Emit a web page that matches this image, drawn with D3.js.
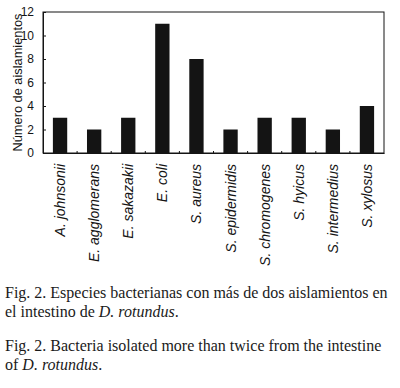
<!DOCTYPE html>
<html><head><meta charset="utf-8">
<script src="https://cdn.jsdelivr.net/npm/d3@7"></script>
<style>
body{margin:0;background:#fff;}
svg{display:block;}
</style></head>
<body>
<script>
const categories = ["A. johnsonii","E. agglomerans","E. sakazakii","E. coli","S. aureus","S. epidermidis","S. chromogenes","S. hyicus","S. intermedius","S. xylosus"];
const values = [3,2,3,11,8,2,3,3,2,4];
const yTicks = [0,2,4,6,8,10,12];
const yTitle = "Número de aislamientos";
const captionEs = [["Fig. 2. Especies bacterianas con más de dos aislamientos en"],["el intestino de ", "D. rotundus", "."]];
const captionEn = [["Fig. 2. Bacteria isolated more than twice from the intestine"],["of ", "D. rotundus", "."]];

const W = 400, H = 388;
const m = {left:43, right:384, top:12, bottom:153};
const svg = d3.select("body").append("svg").attr("width",W).attr("height",H);
const ink = "#141414";

const x = d3.scaleBand().domain(categories).range([m.left, m.right]).paddingInner(0.58).paddingOuter(0.29);
const y = d3.scaleLinear().domain([0,12]).range([m.bottom, m.top]);

// frame
svg.append("rect").attr("x",m.left).attr("y",m.top).attr("width",m.right-m.left).attr("height",m.bottom-m.top)
  .attr("fill","none").attr("stroke",ink).attr("stroke-width",1);

// bars
svg.selectAll("rect.bar").data(values).join("rect").attr("class","bar")
  .attr("x",(d,i)=>x(categories[i])).attr("width",x.bandwidth())
  .attr("y",d=>y(d)).attr("height",d=>y(0)-y(d)).attr("fill",ink);

// y axis
const ya = svg.append("g").attr("transform",`translate(${m.left},0)`)
  .call(d3.axisLeft(y).tickValues(yTicks).tickSize(-3).tickPadding(9));
ya.select(".domain").attr("stroke",ink);
ya.selectAll(".tick line").attr("stroke",ink);
ya.selectAll("text").attr("font-family","Liberation Sans, Arial, sans-serif").attr("font-size",12).attr("fill",ink);

// x axis ticks between categories
const step = x.step();
const xa = svg.append("g").attr("transform",`translate(0,${m.bottom})`)
  .call(d3.axisBottom(x).tickSize(0).tickFormat(""));
xa.select(".domain").attr("stroke",ink);
svg.selectAll("line.xt").data(categories.slice(1)).join("line").attr("class","xt")
  .attr("x1",d=>x(d)-(step - x.bandwidth())/2).attr("x2",d=>x(d)-(step - x.bandwidth())/2)
  .attr("y1",m.bottom).attr("y2",m.bottom-2).attr("stroke",ink);

// x labels rotated
svg.selectAll("text.xl").data(categories).join("text").attr("class","xl")
  .attr("transform",d=>`translate(${x(d)+x.bandwidth()/2+5},${m.bottom+11}) rotate(-90)`)
  .attr("text-anchor","end")
  .attr("font-family","Liberation Sans, Arial, sans-serif").attr("font-size",14).attr("font-style","italic").attr("fill",ink)
  .text(d=>d);

// y title
svg.append("text").attr("transform",`translate(21.5,${(m.top+m.bottom)/2}) rotate(-90)`)
  .attr("text-anchor","middle").attr("font-family","Liberation Sans, Arial, sans-serif").attr("font-size",12.8).attr("fill",ink)
  .text(yTitle);

// captions
function caption(lines, y0){
  lines.forEach((parts,li)=>{
    const t = svg.append("text").attr("x",5).attr("y",y0+li*19)
      .attr("font-family","Liberation Serif, Times New Roman, serif").attr("font-size",16).attr("fill","#1a1a1a");
    parts.forEach((p,pi)=>{
      t.append("tspan").attr("font-style", pi===1?"italic":"normal").text(p);
    });
  });
}
caption(captionEs, 298);
caption(captionEn, 351);
</script>
</body></html>
